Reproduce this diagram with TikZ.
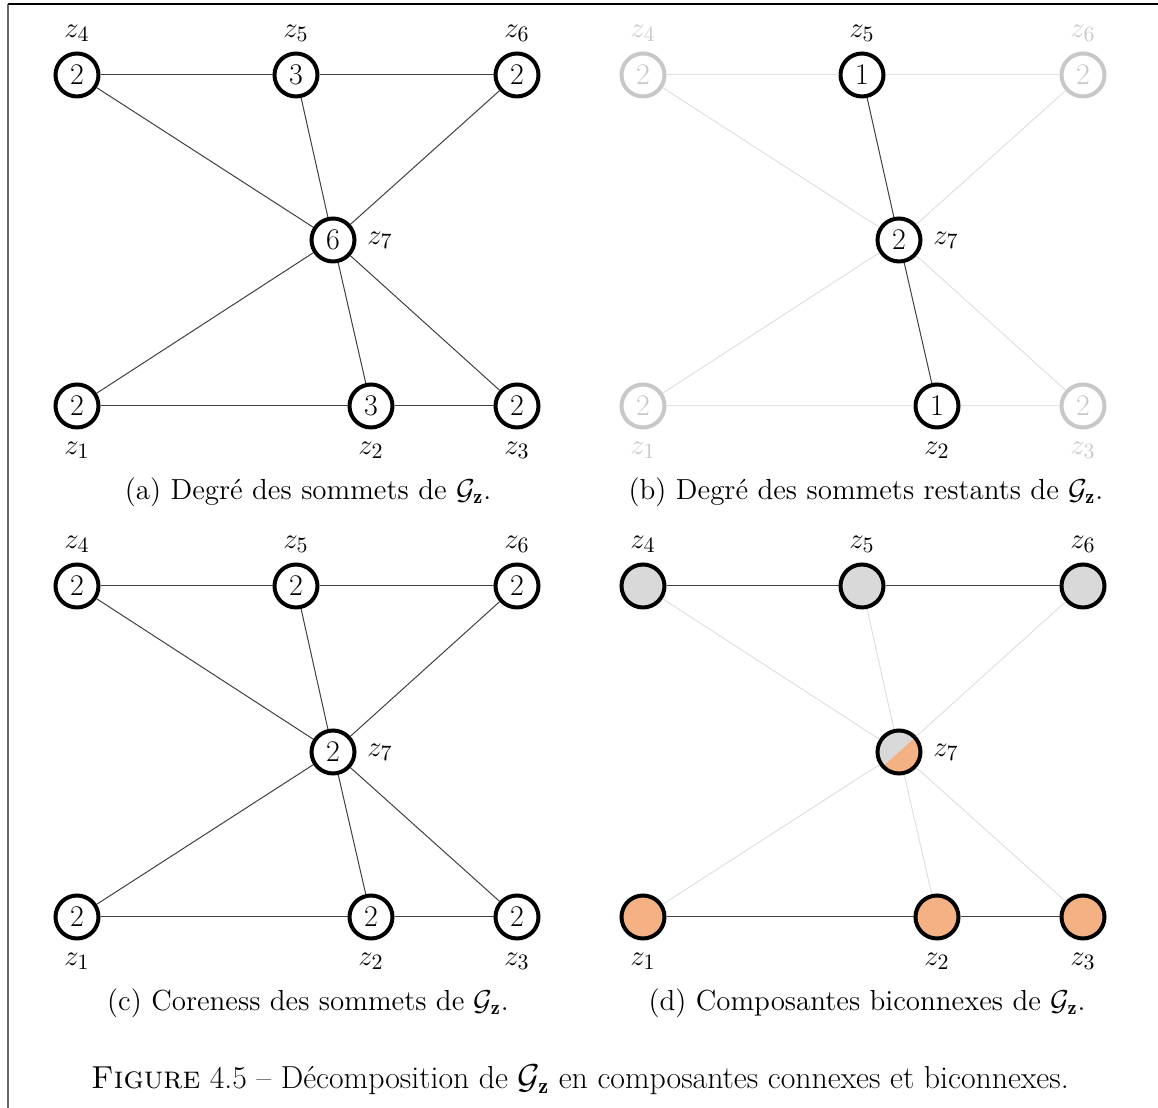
\documentclass[tikz,border=0pt]{standalone}
\usepackage{fontspec}
\usetikzlibrary{calc}
\definecolor{gry}{HTML}{D9D9D9}
\definecolor{org}{HTML}{F4B183}
\definecolor{lgt}{HTML}{C8C8C8}
\definecolor{ledge}{HTML}{E0E0E0}
\tikzset{
  v/.style={circle, draw, line width=2pt, minimum size=21.5pt, inner sep=0pt, font=\fontsize{15}{15}\selectfont},
  vl/.style={v, draw=lgt, text=lgt},
  lab/.style={font=\fontsize{15}{15}\selectfont, inner sep=0pt},
  labl/.style={lab, text=lgt},
  e/.style={draw=black!75, line width=0.5pt},
  le/.style={draw=ledge, line width=0.5pt},
  captxt/.style={font=\fontsize{14.5}{14.5}\selectfont, inner sep=0pt},
  figtxt/.style={font=\fontsize{15.9}{15.9}\selectfont, inner sep=0pt},
}
\begin{document}
\begin{tikzpicture}[x=0.5pt,y=0.5pt]
\useasboundingbox (0,0) rectangle (1158,1108);
\draw[black!60, line width=1pt] (8,1104) -- (8,0);
\draw[black, line width=0.75pt] (8,1104) -- (1158,1104);
% ---------- panel (a)
\begin{scope}[shift={(77,702)}]
\node[v] (a1) at (0,0) {2};
\node[v] (a2) at (294,0) {3};
\node[v] (a3) at (440,0) {2};
\node[v] (a4) at (0,331) {2};
\node[v] (a5) at (219,331) {3};
\node[v] (a6) at (440,331) {2};
\node[v] (a7) at (256,166) {6};
\node[lab] (a1l) at (0,-44) {$z_1$};
\node[lab] (a2l) at (294,-44) {$z_2$};
\node[lab] (a3l) at (440,-44) {$z_3$};
\node[lab] (a4l) at (0,373) {$z_4$};
\node[lab] (a5l) at (219,373) {$z_5$};
\node[lab] (a6l) at (440,373) {$z_6$};
\node[lab] (a7l) at (303,166) {$z_7$};
\end{scope}
\foreach \p/\q in {4/5,5/6,4/7,5/7,6/7,7/1,7/2,7/3,1/2,2/3}
  \draw[e] (a\p) -- (a\q);
\node[captxt] (capa) at (308,616) {(a) Degré des sommets de $\mathcal{G}_{\mathbf{z}}$.};
% ---------- panel (b)
\begin{scope}[shift={(643,702)}]
\node[vl] (b1) at (0,0) {2};
\node[v] (b2) at (294,0) {1};
\node[vl] (b3) at (440,0) {2};
\node[vl] (b4) at (0,331) {2};
\node[v] (b5) at (219,331) {1};
\node[vl] (b6) at (440,331) {2};
\node[v] (b7) at (256,166) {2};
\node[labl] (b1l) at (0,-44) {$z_1$};
\node[lab] (b2l) at (294,-44) {$z_2$};
\node[labl] (b3l) at (440,-44) {$z_3$};
\node[labl] (b4l) at (0,373) {$z_4$};
\node[lab] (b5l) at (219,373) {$z_5$};
\node[labl] (b6l) at (440,373) {$z_6$};
\node[lab] (b7l) at (303,166) {$z_7$};
\end{scope}
\foreach \p/\q in {4/5,5/6,4/7,6/7,7/1,7/3,1/2,2/3}
  \draw[le] (b\p) -- (b\q);
\foreach \p/\q in {5/7,7/2}
  \draw[e] (b\p) -- (b\q);
\node[captxt] (capb) at (866,616) {(b) Degré des sommets restants de $\mathcal{G}_{\mathbf{z}}$.};
% ---------- panel (c)
\begin{scope}[shift={(77,191)}]
\node[v] (c1) at (0,0) {2};
\node[v] (c2) at (294,0) {2};
\node[v] (c3) at (440,0) {2};
\node[v] (c4) at (0,331) {2};
\node[v] (c5) at (219,331) {2};
\node[v] (c6) at (440,331) {2};
\node[v] (c7) at (256,165) {2};
\node[lab] (c1l) at (0,-44) {$z_1$};
\node[lab] (c2l) at (294,-44) {$z_2$};
\node[lab] (c3l) at (440,-44) {$z_3$};
\node[lab] (c4l) at (0,373) {$z_4$};
\node[lab] (c5l) at (219,373) {$z_5$};
\node[lab] (c6l) at (440,373) {$z_6$};
\node[lab] (c7l) at (303,165) {$z_7$};
\end{scope}
\foreach \p/\q in {4/5,5/6,4/7,5/7,6/7,7/1,7/2,7/3,1/2,2/3}
  \draw[e] (c\p) -- (c\q);
\node[captxt] (capc) at (308,105) {(c) Coreness des sommets de $\mathcal{G}_{\mathbf{z}}$.};
% ---------- panel (d)
\begin{scope}[shift={(643,191)}]
\coordinate (dc7) at (256,165);
\fill[gry] (dc7) circle (10.75pt);
\fill[org] ($(dc7)+(42:10.75pt)$) arc[start angle=42, end angle=-138, radius=10.75pt] -- cycle;
\node[v, fill=org] (d1) at (0,0) {};
\node[v, fill=org] (d2) at (294,0) {};
\node[v, fill=org] (d3) at (440,0) {};
\node[v, fill=gry] (d4) at (0,331) {};
\node[v, fill=gry] (d5) at (219,331) {};
\node[v, fill=gry] (d6) at (440,331) {};
\node[v] (d7) at (dc7) {};
\node[lab] (d1l) at (0,-44) {$z_1$};
\node[lab] (d2l) at (294,-44) {$z_2$};
\node[lab] (d3l) at (440,-44) {$z_3$};
\node[lab] (d4l) at (0,373) {$z_4$};
\node[lab] (d5l) at (219,373) {$z_5$};
\node[lab] (d6l) at (440,373) {$z_6$};
\node[lab] (d7l) at (303,165) {$z_7$};
\end{scope}
\foreach \p/\q in {4/7,5/7,6/7,7/1,7/2,7/3}
  \draw[le] (d\p) -- (d\q);
\foreach \p/\q in {4/5,5/6,1/2,2/3}
  \draw[e] (d\p) -- (d\q);
\node[captxt] (capd) at (867,105) {(d) Composantes biconnexes de $\mathcal{G}_{\mathbf{z}}$.};
% ---------- figure caption
\node[figtxt] (fig) at (580,28) {\textsc{Figure} 4.5 -- Décomposition de $\mathcal{G}_{\mathbf{z}}$ en composantes connexes et biconnexes.};
\end{tikzpicture}
\end{document}
